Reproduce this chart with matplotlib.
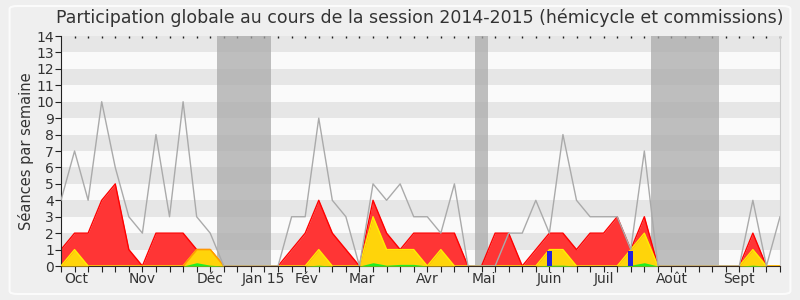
import matplotlib
matplotlib.use("Agg")
import matplotlib.pyplot as plt
from matplotlib.patches import FancyBboxPatch
import numpy as np

plt.rcParams['font.family'] = ['DejaVu Sans']

# weekly values, 54 weeks (end Sept 2014 -> end Sept 2015)
total_seances = [4, 7, 4, 10, 6, 3, 2, 8, 3, 10, 3, 2, 0, 0, 0, 0, 0, 3, 3, 9,
                 4, 3, 0, 5, 4, 5, 3, 3, 2, 5, 0, 0, 0, 2, 2, 4, 2, 8, 4, 3,
                 3, 3, 1, 7, 0, 0, 0, 0, 0, 0, 0, 4, 0, 3]
presences = [1, 2, 2, 4, 5, 1, 0, 2, 2, 2, 1, 1, 0, 0, 0, 0, 0, 1, 2, 4,
             2, 1, 0, 4, 2, 1, 2, 2, 2, 2, 0, 0, 2, 2, 0, 1, 2, 2, 1, 2,
             2, 3, 1, 3, 0, 0, 0, 0, 0, 0, 0, 2, 0, 0]
interventions = [0, 1, 0, 0, 0, 0, 0, 0, 0, 0, 1, 1, 0, 0, 0, 0, 0, 0, 0, 1,
                 0, 0, 0, 3, 1, 1, 1, 0, 1, 0, 0, 0, 0, 0, 0, 0, 1, 1, 0, 0,
                 0, 0, 1, 2, 0, 0, 0, 0, 0, 0, 0, 1, 0, 0]
rapports = [0, 0, 0, 0, 0, 0, 0, 0, 0, 0, 1, 1, 0, 0, 0, 0, 0, 0, 0, 0,
            0, 0, 0, 0, 0, 0, 0, 0, 0, 0, 0, 0, 0, 0, 0, 0, 0, 0, 0, 0,
            0, 0, 0, 0, 0, 0, 0, 0, 0, 0, 0, 0, 0, 0]
courtes = [0, 0, 0, 0, 0, 0, 0, 0, 0, 0, 0.2, 0.05, 0, 0, 0, 0, 0, 0, 0, 0.05,
           0, 0, 0, 0.2, 0.05, 0.1, 0.1, 0, 0, 0, 0, 0, 0, 0, 0, 0, 0.05, 0.05, 0, 0,
           0, 0, 0.05, 0.2, 0, 0, 0, 0, 0, 0, 0, 0.05, 0, 0]
questions_weeks = [36, 42]
questions_vals = [0.9, 0.9]

vacances = [(11.5, 15.5), (30.5, 31.5), (43.5, 48.5)]
month_labels = ["Oct", "Nov", "Déc", "Jan 15", "Fév", "Mar", "Avr", "Mai",
                "Juin", "Juil", "Août", "Sept"]
month_pos = [1.15, 6, 11, 14.9, 18.1, 22.2, 27, 31.2, 36, 40, 45, 50]

weeks = np.arange(len(total_seances))

fig = plt.figure(figsize=(8, 3), dpi=100, facecolor='#efefef')
fig.patches.append(FancyBboxPatch((0.012, 0.02), 0.976, 0.96, boxstyle="round,pad=0,rounding_size=0.01",
                                  transform=fig.transFigure, facecolor='none',
                                  edgecolor='#fbfbfb', linewidth=1.5))
ax = fig.add_axes([0.07625, 0.1133, 0.89875, 0.7667])
ax.set_facecolor('#fafafa')

# stripes
for k in range(14):
    if k % 2 == 1:
        ax.axhspan(k, k + 1, color='#e6e6e6', lw=0, zorder=0)

for a, b in vacances:
    ax.axvspan(a, b, color='#a8a8a8', alpha=0.72, lw=0, zorder=1)

ax.fill_between(weeks, 0, presences, color='#ff3535', lw=0, zorder=2)
ax.plot(weeks, presences, color='#ff0000', lw=1, zorder=2.1)
ax.fill_between(weeks, 0, interventions, color='#ffd40a', lw=0, zorder=3)
ax.plot(weeks, interventions, color='#ffee00', lw=1, zorder=3.1)
r = np.array(rapports, dtype=float)
mask = np.convolve(r > 0, [1, 1, 1], mode='same') > 0
ax.plot(weeks[mask], r[mask], color='#ff9900', lw=1, zorder=3.2)
ax.fill_between(weeks, 0, courtes, color='#22ee22', lw=0, zorder=4)
ax.bar(questions_weeks, questions_vals, width=0.37, color='#2222dd', zorder=5)
ax.plot(weeks, total_seances, color='#aaaaaa', lw=1, zorder=6)

ax.set_xlim(0, len(weeks) - 1)
ax.set_ylim(0, 14)
ax.set_yticks(range(15))
ax.tick_params(axis='y', labelsize=10, length=4, color='#222222', labelcolor='#333333', pad=1)
ax.set_xticks(weeks)
ax.set_xticklabels([])
ax.tick_params(axis='x', length=4, color='#222222', direction='out')
for lbl, p in zip(month_labels, month_pos):
    ax.text(p, -0.35, lbl, ha='center', va='top', fontsize=10, color='#333333',
            transform=ax.transData, clip_on=False)

top = ax.secondary_xaxis('top')
top.set_xticks(weeks[1:])
top.set_xticklabels([])
top.tick_params(length=1.5, width=1, color='#222222', direction='in')
top.spines['top'].set_visible(False)

ax.spines['top'].set_visible(False)
ax.spines['right'].set_color('#cccccc')
ax.spines['left'].set_color('#222222')
ax.spines['bottom'].set_color('#3a2a20')

ax.set_ylabel("Séances par semaine", fontsize=10.5, color='#333333', labelpad=2)
fig.text(0.525, 0.94, "Participation globale au cours de la session 2014-2015 (hémicycle et commissions)",
         ha='center', va='center', fontsize=12.5, color='#333333')

fig.savefig("out.png", dpi=100, facecolor=fig.get_facecolor())
